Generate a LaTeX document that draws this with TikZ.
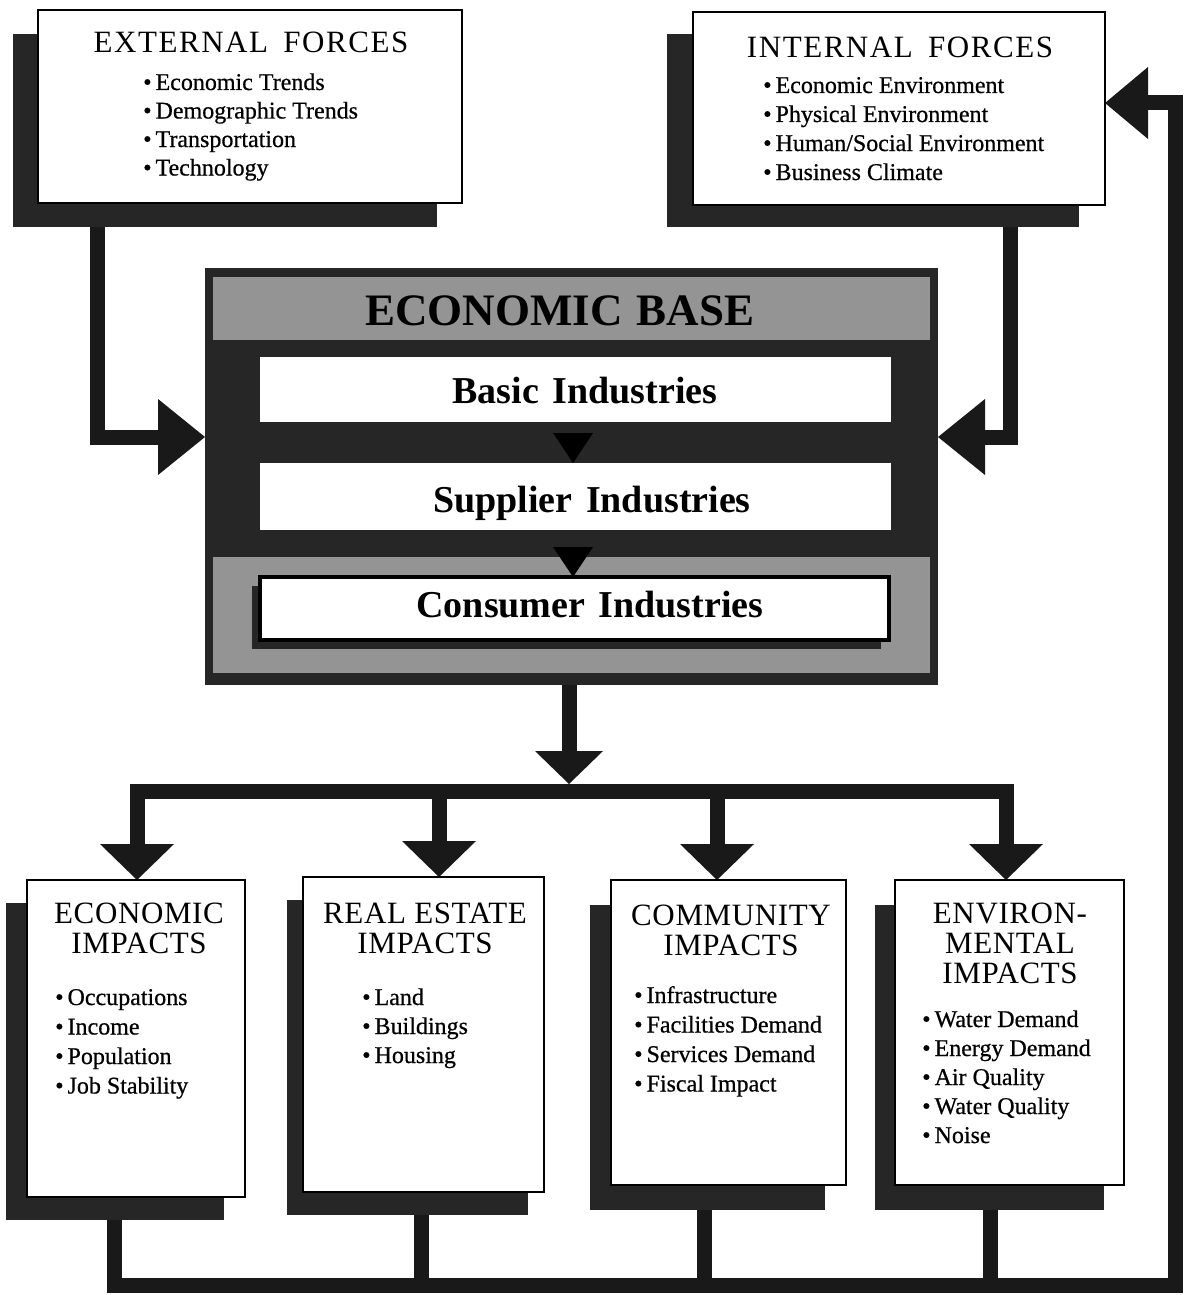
\documentclass[tikz,border=0pt]{standalone}
\usepackage{fontspec}
\setmainfont{Liberation Serif}
\newfontfamily\heavyserif[FakeBold=0.6]{Liberation Serif}
\usetikzlibrary{arrows.meta,shadows,backgrounds}
\begin{document}
\begin{tikzpicture}[x=1pt,y=-1pt,
  box/.style={draw=black,line width=2pt,fill=white,inner sep=0pt,outer sep=0pt},
  plain/.style={inner sep=0pt,outer sep=0pt},
  shad/.style 2 args={drop shadow={shadow xshift=#1,shadow yshift=#2,opacity=1,fill=black!85}},
  conn/.style={line width=15pt,draw=black!90},
  tipA/.style={-{Triangle[width=76pt,length=47pt,line width=0pt]}},
  tipB/.style={-{Triangle[width=68pt,length=33pt,line width=0pt]}},
  tipC/.style={-{Triangle[width=74pt,length=36pt,line width=0pt]}},
  tipD/.style={-{Triangle[width=72pt,length=43pt,line width=0pt]}},
  tipE/.style={-{Triangle[width=40pt,length=30pt,line width=0pt,fill=black]}},
  ttl/.style={font=\fontsize{31}{31}\selectfont\addfontfeatures{LetterSpace=5},inner sep=0pt,anchor=base},
  btl/.style={font=\fontsize{31}{30}\selectfont\addfontfeatures{LetterSpace=2},inner sep=0pt,anchor=north,align=center},
  bul/.style={font=\heavyserif\fontsize{24}{24}\selectfont,inner sep=0pt,anchor=base west},
  ind/.style={font=\fontsize{38}{38}\selectfont\bfseries,inner sep=0pt,anchor=base},
  hdrf/.style={font=\fontsize{45}{45}\selectfont\bfseries,inner sep=0pt,anchor=base}
]
\useasboundingbox (0,0) rectangle (1185,1295);

% ---------- top boxes ----------
\node[box,shad={-25pt}{-24pt},minimum width=424pt,minimum height=193pt] (ext) at (250,106.5) {};
\node[box,shad={-26pt}{-22pt},minimum width=412pt,minimum height=193pt] (int) at (899,108.5) {};

\node[ttl] (extt) at (251,53) {EXTERNAL\hspace{6pt} FORCES};
\foreach \t [count=\i from 0] in {Economic Trends,Demographic Trends,Transportation,Technology}
  \node[bul] (extb\i) at (143,{90+28.5*\i}) {•\,\t};

\node[ttl] (intt) at (900,58) {INTERNAL\hspace{6pt} FORCES};
\foreach \t [count=\i from 0] in {Economic Environment,Physical Environment,Human/Social Environment,Business Climate}
  \node[bul] (intb\i) at (763,{93+29*\i}) {•\,\t};

% ---------- economic base ----------
\node[plain,fill=black!85,minimum width=733pt,minimum height=417pt] (base) at (571.5,476.5) {};
\node[plain,fill=black!42,minimum width=717pt,minimum height=63pt] (hdr) at (571.5,308.5) {};
\node[plain,fill=white,minimum width=631pt,minimum height=65pt] (basic) at (575.5,389.5) {};
\node[plain,fill=white,minimum width=631pt,minimum height=67pt] (supp) at (575.5,496.5) {};
\node[plain,fill=black!42,minimum width=717pt,minimum height=116pt] (cband) at (571.5,615) {};
\node[box,line width=4pt,shad={-8pt}{-9pt},minimum width=629pt,minimum height=63pt] (cons) at (574.5,608.5) {};

\node[hdrf] (hdrt) at (560,325) {ECONOMIC\hspace{14pt}BASE};
\node[ind] (basict) at (585,403) {Basic\hspace{4pt} Industries};
\node[ind] (suppt) at (592,512) {Supplier\hspace{4pt} Industries};
\node[ind] (const) at (590,617) {Consumer\hspace{4pt} Industries};

\draw[black!85,line width=8pt,tipE] (573,0 |- basic.south) -- (573,0 |- supp.north);
\draw[black!85,line width=8pt,tipE] (573,0 |- supp.south) -- (573,0 |- cons.north);

% ---------- impact boxes ----------
\node[box,shad={-21pt}{-23pt},minimum width=218pt,minimum height=317pt] (eimp) at (136,1038.5) {};
\node[box,shad={-16pt}{-23pt},minimum width=241pt,minimum height=315pt] (rimp) at (423.5,1034.5) {};
\node[box,shad={-21pt}{-25pt},minimum width=235pt,minimum height=305pt] (cimp) at (728.5,1032.5) {};
\node[box,shad={-20pt}{-25pt},minimum width=229pt,minimum height=305pt] (vimp) at (1009.5,1032.5) {};

\node[btl] (eimpt) at (139,903) {ECONOMIC\\IMPACTS};
\foreach \t [count=\i from 0] in {Occupations,Income,Population,Job Stability}
  \node[bul] (eimpb\i) at (55,{1005+29.5*\i}) {•\,\t};

\node[btl] (rimpt) at (425,903) {REAL ESTATE\\IMPACTS};
\foreach \t [count=\i from 0] in {Land,Buildings,Housing}
  \node[bul] (rimpb\i) at (362,{1005+29*\i}) {•\,\t};

\node[btl] (cimpt) at (731,905) {COMMUNITY\\IMPACTS};
\foreach \t [count=\i from 0] in {Infrastructure,Facilities Demand,Services Demand,Fiscal Impact}
  \node[bul] (cimpb\i) at (634,{1003+29.5*\i}) {•\,\t};

\node[btl] (vimpt) at (1010,903) {ENVIRON-\\MENTAL\\IMPACTS};
\foreach \t [count=\i from 0] in {Water Demand,Energy Demand,Air Quality,Water Quality,Noise}
  \node[bul] (vimpb\i) at (922,{1027+29*\i}) {•\,\t};

\coordinate (hub) at (569,791);
\coordinate (hubtop) at (569,784);

% ---------- connectors ----------
\begin{scope}[on background layer]
\fill[white] (0,0) rectangle (1185,1295);
\draw[conn,tipA] (97,0 |- ext.south) |- (base.west |- 0,437);
\draw[conn,tipA] (1010,0 |- int.south) |- (base.east |- 0,437);
\draw[conn,tipB] (569,0 |- base.south) -- (hubtop);
\foreach \n/\x in {eimp/137,rimp/439,cimp/717,vimp/1006}
  \draw[conn,tipC] (hub) -| (\x,0 |- \n.north);
\draw[conn,tipD] (114,0 |- eimp.south) |- (1175,1285) |- (int.east |- 0,103);
\foreach \n/\x in {rimp/421,cimp/704,vimp/990}
  \draw[conn] (\x,0 |- \n.south) -- (\x,1285);
\end{scope}
\end{tikzpicture}
\end{document}
